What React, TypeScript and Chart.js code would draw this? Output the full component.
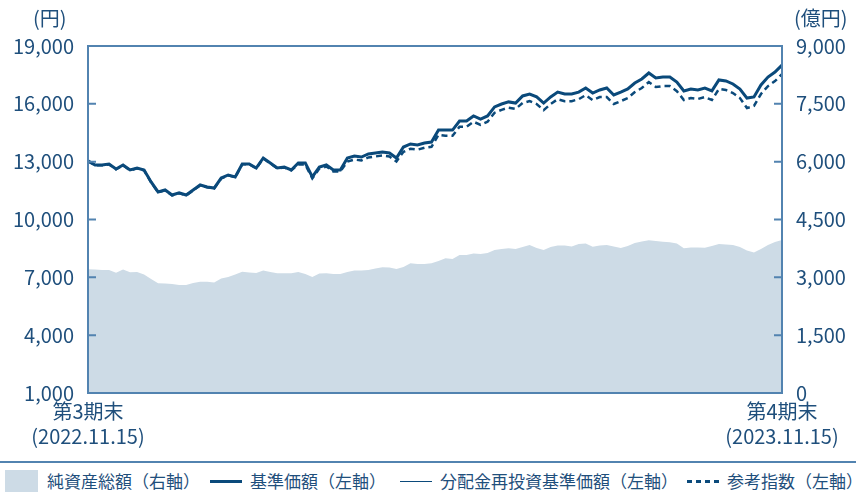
import { useEffect, useRef } from 'react';
import { Chart, registerables } from 'chart.js';

Chart.register(...registerables);

// ---- data ----
const PERIOD_LABELS: string[][] = [
  ['第3期末', '(2022.11.15)'],
  ['第4期末', '(2023.11.15)'],
];

// 基準価額（円）
const NAV: number[] = [
  13040, 12830, 12830, 12880, 12620, 12830, 12570, 12670, 12570, 11950,
  11430, 11530, 11270, 11380, 11270, 11530, 11790, 11690, 11630, 12150,
  12310, 12210, 12880, 12880, 12670, 13190, 12930, 12670, 12720, 12570,
  12930, 12930, 12210, 12720, 12830, 12570, 12570, 13190, 13290, 13240,
  13400, 13450, 13500, 13450, 13190, 13760, 13920, 13870, 13970, 14020,
  14640, 14640, 14640, 15110, 15110, 15370, 15210, 15370, 15840, 15990,
  16100, 16040, 16410, 16510, 16360, 16040, 16360, 16610, 16510, 16510,
  16610, 16820, 16560, 16720, 16820, 16460, 16610, 16770, 17080, 17290,
  17600, 17340, 17390, 17390, 17130, 16670, 16770, 16720, 16820, 16670,
  17240, 17190, 17030, 16770, 16300, 16360, 16980, 17390, 17650, 18010,
];

// 分配金再投資基準価額（円）— no distributions, coincides with NAV
const REINVEST: number[] = [
  13040, 12830, 12830, 12880, 12620, 12830, 12570, 12670, 12570, 11950,
  11430, 11530, 11270, 11380, 11270, 11530, 11790, 11690, 11630, 12150,
  12310, 12210, 12880, 12880, 12670, 13190, 12930, 12670, 12720, 12570,
  12930, 12930, 12210, 12720, 12830, 12570, 12570, 13190, 13290, 13240,
  13400, 13450, 13500, 13450, 13190, 13760, 13920, 13870, 13970, 14020,
  14640, 14640, 14640, 15110, 15110, 15370, 15210, 15370, 15840, 15990,
  16100, 16040, 16410, 16510, 16360, 16040, 16360, 16610, 16510, 16510,
  16610, 16820, 16560, 16720, 16820, 16460, 16610, 16770, 17080, 17290,
  17600, 17340, 17390, 17390, 17130, 16670, 16770, 16720, 16820, 16670,
  17240, 17190, 17030, 16770, 16300, 16360, 16980, 17390, 17650, 18010,
];

// 参考指数（円換算）
const REF: number[] = [
  13020, 12810, 12810, 12860, 12600, 12810, 12550, 12650, 12550, 11930,
  11410, 11510, 11250, 11360, 11250, 11510, 11770, 11670, 11610, 12130,
  12290, 12190, 12860, 12860, 12650, 13170, 12910, 12650, 12700, 12550,
  12850, 12850, 12130, 12640, 12750, 12490, 12490, 13010, 13110, 13060,
  13220, 13270, 13320, 13270, 13010, 13510, 13670, 13620, 13720, 13770,
  14390, 14340, 14340, 14810, 14810, 15070, 14910, 15070, 15540, 15690,
  15800, 15740, 16040, 16140, 15990, 15670, 15990, 16240, 16140, 16140,
  16240, 16450, 16190, 16350, 16350, 15990, 16140, 16300, 16610, 16820,
  17130, 16870, 16920, 16920, 16660, 16200, 16300, 16250, 16350, 16200,
  16770, 16720, 16560, 16300, 15780, 15890, 16510, 16920, 17180, 17540,
];

// 純資産総額（億円）
const NET_ASSETS: number[] = [
  3208, 3203, 3189, 3189, 3119, 3203, 3130, 3137, 3073, 2956,
  2844, 2839, 2826, 2800, 2800, 2852, 2886, 2886, 2865, 2969,
  3008, 3073, 3145, 3125, 3112, 3177, 3137, 3104, 3104, 3104,
  3137, 3086, 3008, 3099, 3104, 3086, 3086, 3137, 3177, 3177,
  3189, 3228, 3259, 3254, 3215, 3267, 3363, 3345, 3345, 3363,
  3423, 3493, 3475, 3579, 3579, 3617, 3604, 3630, 3708, 3734,
  3752, 3734, 3786, 3838, 3760, 3708, 3786, 3825, 3825, 3799,
  3864, 3877, 3794, 3825, 3838, 3799, 3760, 3812, 3890, 3929,
  3960, 3942, 3921, 3908, 3877, 3752, 3773, 3773, 3768, 3812,
  3864, 3851, 3838, 3786, 3695, 3643, 3734, 3838, 3916, 3968,
];

const LEFT_MIN = 1000;
const LEFT_MAX = 19000;
const LEFT_STEP = 3000;
const RIGHT_MIN = 0;
const RIGHT_MAX = 9000;
const RIGHT_STEP = 1500;

const LEGEND_LABELS = [
  '純資産総額（右軸）',
  '基準価額（左軸）',
  '分配金再投資基準価額（左軸）',
  '参考指数（左軸）',
];
const UNIT_LEFT = '(円)';
const UNIT_RIGHT = '(億円)';

// ---- styles ----
const TEXT = '#1f4f7c';
const LINE = '#0b4a7b';
const FRAME = '#5283b0';
const AREA = '#cddbe6';
const FONT = '"Noto Sans CJK JP", "Noto Sans", sans-serif';

const framePlugin = {
  id: 'frame',
  afterDatasetsDraw(chart: any) {
    const { ctx, chartArea } = chart;
    const { left, right, top, bottom } = chartArea;
    ctx.save();
    ctx.strokeStyle = FRAME;
    ctx.lineWidth = 2;
    ctx.strokeRect(left, top, right - left, bottom - top);
    const y = chart.scales.y;
    const y2 = chart.scales.y2;
    ctx.beginPath();
    y.ticks.forEach((t: any) => {
      const p = y.getPixelForValue(t.value);
      if (p <= top + 1 || p >= bottom - 1) return;
      ctx.moveTo(left, p);
      ctx.lineTo(left + 8, p);
    });
    y2.ticks.forEach((t: any) => {
      const p = y2.getPixelForValue(t.value);
      if (p <= top + 1 || p >= bottom - 1) return;
      ctx.moveTo(right, p);
      ctx.lineTo(right - 8, p);
    });
    ctx.stroke();
    ctx.restore();
  },
};

export default function App() {
  const ref = useRef<HTMLCanvasElement | null>(null);

  useEffect(() => {
    if (!ref.current) return;
    Chart.defaults.font.family = FONT;
    const labels = NAV.map((_, i) => String(i));
    const chart = new Chart(ref.current, {
      type: 'line',
      data: {
        labels,
        datasets: [
          {
            label: LEGEND_LABELS[2],
            data: REINVEST,
            yAxisID: 'y',
            borderColor: LINE,
            borderWidth: 1.5,
            pointRadius: 0,
            fill: false,
            order: 0,
          },
          {
            label: LEGEND_LABELS[1],
            data: NAV,
            yAxisID: 'y',
            borderColor: LINE,
            borderWidth: 3,
            pointRadius: 0,
            fill: false,
            order: 1,
          },
          {
            label: LEGEND_LABELS[3],
            data: REF,
            yAxisID: 'y',
            borderColor: LINE,
            borderWidth: 2.5,
            borderDash: [6, 4],
            pointRadius: 0,
            fill: false,
            order: 2,
          },
          {
            label: LEGEND_LABELS[0],
            data: NET_ASSETS,
            yAxisID: 'y2',
            borderWidth: 0,
            borderColor: AREA,
            backgroundColor: AREA,
            pointRadius: 0,
            fill: 'origin',
            order: 3,
          },
        ],
      },
      options: {
        animation: false,
        responsive: false,
        maintainAspectRatio: false,
        layout: { padding: { top: 46, left: 0, right: 0, bottom: 0 } },
        plugins: {
          legend: { display: false },
          tooltip: { enabled: false },
        },
        scales: {
          x: {
            type: 'category',
            offset: false,
            grid: { display: false, drawTicks: false },
            border: { display: false },
            ticks: {
              autoSkip: false,
              maxRotation: 0,
              minRotation: 0,
              padding: 6,
              color: TEXT,
              font: { size: 20, lineHeight: 1.25 },
              callback: (_v: any, i: number) =>
                i === 0 ? PERIOD_LABELS[0] : i === NAV.length - 1 ? PERIOD_LABELS[1] : '',
            },
            afterFit: (s: any) => {
              s.height = 67;
            },
          },
          y: {
            position: 'left',
            min: LEFT_MIN,
            max: LEFT_MAX,
            grid: { display: false, drawTicks: false },
            border: { display: false },
            ticks: {
              stepSize: LEFT_STEP,
              padding: 14,
              color: TEXT,
              font: { size: 20 },
              callback: (v: any) => Number(v).toLocaleString('en-US'),
            },
            afterFit: (s: any) => {
              s.width = 88;
            },
          },
          y2: {
            position: 'right',
            min: RIGHT_MIN,
            max: RIGHT_MAX,
            grid: { display: false, drawTicks: false },
            border: { display: false },
            ticks: {
              stepSize: RIGHT_STEP,
              padding: 14,
              color: TEXT,
              font: { size: 20 },
              callback: (v: any) => Number(v).toLocaleString('en-US'),
            },
            afterFit: (s: any) => {
              s.width = 74;
            },
          },
        },
      },
      plugins: [framePlugin],
    });
    return () => chart.destroy();
  }, []);

  const textStyle: any = {
    position: 'absolute',
    top: 470,
    lineHeight: '22px',
    fontSize: 17,
    color: TEXT,
    whiteSpace: 'nowrap',
    fontFamily: FONT,
  };

  return (
    <div
      style={{
        position: 'fixed',
        left: 0,
        top: 0,
        width: 856,
        height: 493,
        background: '#fff',
        overflow: 'hidden',
        fontFamily: FONT,
      }}
    >
      <canvas ref={ref} width={856} height={460} style={{ position: 'absolute', left: 0, top: 0 }} />
      <div style={{ position: 'absolute', left: 33, top: 6, fontSize: 20, lineHeight: '24px', color: TEXT }}>
        {UNIT_LEFT}
      </div>
      <div style={{ position: 'absolute', left: 794, top: 6, fontSize: 20, lineHeight: '24px', color: TEXT }}>
        {UNIT_RIGHT}
      </div>
      <div style={{ position: 'absolute', left: 0, top: 461, width: 856, height: 2, background: FRAME }} />
      <div style={{ position: 'absolute', left: 5, top: 470, width: 33, height: 22, background: AREA }} />
      <div style={{ ...textStyle, left: 47 }}>{LEGEND_LABELS[0]}</div>
      <div style={{ position: 'absolute', left: 210, top: 480, width: 32, height: 3, background: LINE }} />
      <div style={{ ...textStyle, left: 250 }}>{LEGEND_LABELS[1]}</div>
      <div style={{ position: 'absolute', left: 400, top: 480.5, width: 32, height: 1.5, background: LINE }} />
      <div style={{ ...textStyle, left: 440 }}>{LEGEND_LABELS[2]}</div>
      <div
        style={{
          position: 'absolute',
          left: 687,
          top: 480,
          width: 32,
          height: 3,
          background: `repeating-linear-gradient(90deg, ${LINE} 0px, ${LINE} 5px, transparent 5px, transparent 9px)`,
        }}
      />
      <div style={{ ...textStyle, left: 727 }}>{LEGEND_LABELS[3]}</div>
    </div>
  );
}
